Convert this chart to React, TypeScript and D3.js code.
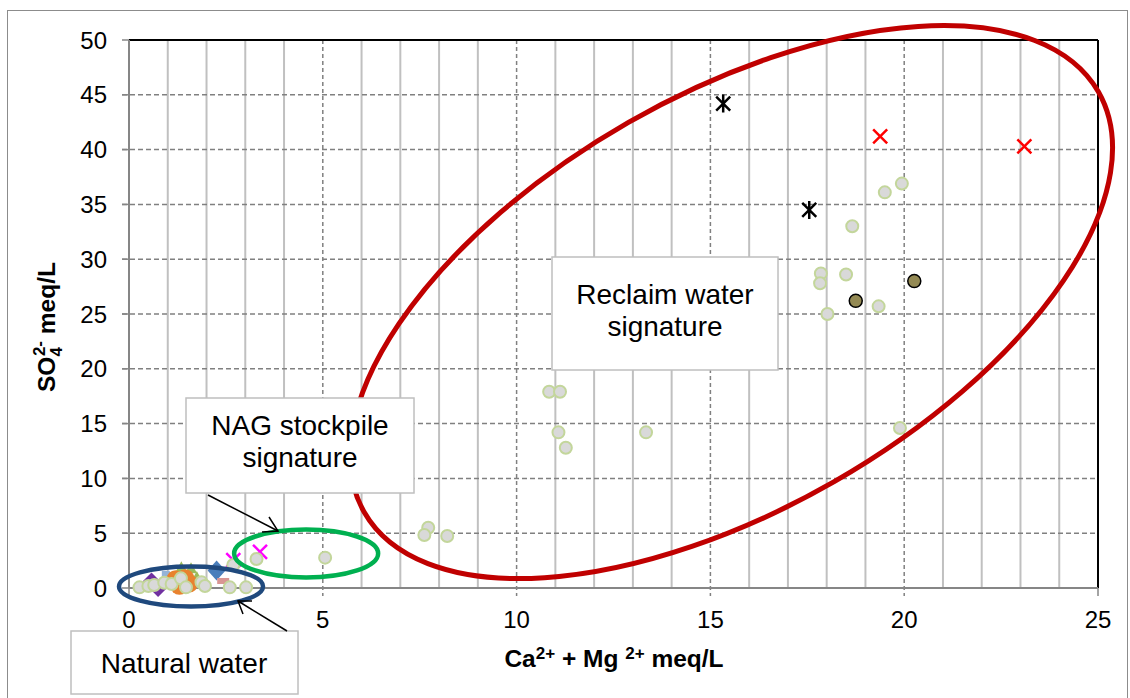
import React from "react";
import * as d3 from "d3";

// reclaim / natural water samples, [Ca+Mg, SO4] in meq/L
const grayPts: [number, number][] = [
  [0.27, 0.06], [0.5, 0.18], [0.65, 0.27], [0.91, 0.48], [1.1, 0.36], [1.34, 0.88],
  [1.47, 0.06], [1.87, 0.52], [1.96, 0.18], [2.6, 0.06], [3.02, 0.06], [2.69, 2.1],
  [3.29, 2.65], [5.06, 2.77], [7.72, 5.5], [7.62, 4.84], [8.21, 4.74],
  [10.84, 17.9], [11.12, 17.9], [11.08, 14.2], [11.27, 12.8], [13.34, 14.2], [19.89, 14.6],
  [19.94, 36.9], [19.5, 36.1], [18.66, 33.0], [17.85, 28.7], [17.83, 27.8], [18.5, 28.6],
  [18.02, 25.0], [19.34, 25.7],
];
const olivePts: [number, number][] = [[18.75, 26.2], [20.26, 28.0]];
const redCrossPts: [number, number][] = [[19.38, 41.2], [23.1, 40.3]];
const starPts: [number, number][] = [[15.33, 44.2], [17.55, 34.5]];
const magentaPts: [number, number][] = [[2.69, 2.55], [3.38, 3.3]];
const purplePts: [number, number][] = [[0.58, 0.6], [0.75, 0.0]];
const orangePts: [number, number][] = [[1.2, 0.8], [1.45, 0.9], [1.55, 0.4], [1.3, 0.2]];
const greenPts: [number, number][] = [[1.35, 1.9], [1.6, 1.8], [1.75, 1.0]];
const lightBluePts: [number, number][] = [[0.95, 1.2], [1.05, 1.1]];
const bluePts: [number, number][] = [[2.26, 1.6]];
const pinkPts: [number, number][] = [[2.43, 0.64]];

const xTicks = [0, 5, 10, 15, 20, 25];
const yTicks = [0, 5, 10, 15, 20, 25, 30, 35, 40, 45, 50];
const xMinor = d3.range(1, 25);

const W = 1130, H = 698;
const margin = { top: 40, right: 32, bottom: 110, left: 129 };
const font = "Arial, 'Liberation Sans', sans-serif";

export default function App() {
  const x = d3.scaleLinear().domain([0, 25]).range([margin.left, W - margin.right]);
  const y = d3.scaleLinear().domain([0, 50]).range([H - margin.bottom, margin.top]);
  const x0 = x(0), x1 = x(25), y0 = y(0), y1 = y(50);

  const cross = (cx: number, cy: number, s: number) =>
    `M${cx - s},${cy - s}L${cx + s},${cy + s}M${cx - s},${cy + s}L${cx + s},${cy - s}`;

  // reclaim ellipse centre
  const rcx = x(15.54), rcy = y(26.09);

  return (
    <div style={{ position: "fixed", left: 0, top: 0 }}>
      <svg width={W} height={H} style={{ display: "block", background: "#fff" }} fontFamily={font}>
        <rect x={7.5} y={10.5} width={1120} height={700} fill="#fff" stroke="#8c8c8c" strokeWidth={1} />

        {/* minor vertical grid */}
        {xMinor.filter((v) => v % 5 !== 0).map((v) => (
          <line key={"mv" + v} x1={x(v)} x2={x(v)} y1={y1} y2={y0} stroke="#c0c0c0" strokeWidth={2} />
        ))}
        {/* major vertical grid */}
        {xTicks.slice(1, -1).map((v) => (
          <line key={"Mv" + v} x1={x(v)} x2={x(v)} y1={y1} y2={y0 + 8} stroke="#808080" strokeWidth={1.5} strokeDasharray="4,3" />
        ))}
        {/* horizontal grid */}
        {yTicks.slice(1, -1).map((v) => (
          <line key={"h" + v} x1={x0 - 7} x2={x1} y1={y(v)} y2={y(v)} stroke="#808080" strokeWidth={1.5} strokeDasharray="5,3" />
        ))}
        {/* plot border */}
        <line x1={x0} x2={x1} y1={y1} y2={y1} stroke="#000" strokeWidth={2} />
        <line x1={x1} x2={x1} y1={y1} y2={y0} stroke="#000" strokeWidth={2} />
        {/* axes */}
        <line x1={x0} x2={x0} y1={y1} y2={y0} stroke="#868686" strokeWidth={2} />
        <line x1={x0} x2={x1} y1={y0} y2={y0} stroke="#868686" strokeWidth={2} />
        {yTicks.map((v) => (
          <line key={"yt" + v} x1={x0 - 7} x2={x0} y1={y(v)} y2={y(v)} stroke="#868686" strokeWidth={1.5} />
        ))}
        {[0, 25].map((v) => (
          <line key={"xt" + v} x1={x(v)} x2={x(v)} y1={y0} y2={y0 + 8} stroke="#868686" strokeWidth={1.5} />
        ))}
        {yTicks.map((v) => (
          <text key={"yl" + v} x={x0 - 22} y={y(v) + 8.5} textAnchor="end" fontSize={24} fill="#000">{v}</text>
        ))}
        {xTicks.map((v) => (
          <text key={"xl" + v} x={x(v)} y={y0 + 40} textAnchor="middle" fontSize={24} fill="#000">{v}</text>
        ))}

        {/* axis titles */}
        <text x={614} y={667} textAnchor="middle" fontSize={24.5} fontWeight="bold">
          Ca<tspan fontSize={17} dy={-8}>2+</tspan><tspan dy={8}> + Mg </tspan><tspan fontSize={17} dy={-8}>2+</tspan><tspan dy={8}> meq/L</tspan>
        </text>
        <text transform="translate(55,327) rotate(-90)" textAnchor="middle" fontSize={24.5} fontWeight="bold">
          SO<tspan fontSize={17} dy={7}>4</tspan><tspan fontSize={17} dx={-9} dy={-17}>2-</tspan><tspan dy={10}> meq/L</tspan>
        </text>

        {/* natural water cluster */}
        {purplePts.map(([a, b], i) => (
          <path key={"pu" + i} d={`M${x(a)},${y(b) - 9}L${x(a) + 9},${y(b)}L${x(a)},${y(b) + 9}L${x(a) - 9},${y(b)}Z`} fill="#7030a0" />
        ))}
        {lightBluePts.map(([a, b], i) => (
          <rect key={"lb" + i} x={x(a) - 4} y={y(b) - 4} width={8} height={8} fill="#95b3d7" />
        ))}
        {greenPts.map(([a, b], i) => (
          <path key={"gr" + i} d={`M${x(a)},${y(b) - 6}L${x(a) + 6},${y(b) + 5}L${x(a) - 6},${y(b) + 5}Z`} fill="#9bbb59" />
        ))}
        {orangePts.map(([a, b], i) => (
          <circle key={"or" + i} cx={x(a)} cy={y(b)} r={9} fill="#e8822e" />
        ))}
        {bluePts.map(([a, b], i) => (
          <path key={"bl" + i} d={`M${x(a)},${y(b) - 10}L${x(a) + 9},${y(b)}L${x(a)},${y(b) + 10}L${x(a) - 9},${y(b)}Z`} fill="#4a7ebb" />
        ))}
        {pinkPts.map(([a, b], i) => (
          <rect key={"pk" + i} x={x(a) - 6} y={y(b) - 3} width={12} height={6} fill="#d99694" />
        ))}
        {magentaPts.map(([a, b], i) => (
          <path key={"mg" + i} d={cross(x(a), y(b), 7)} stroke="#ff00ff" strokeWidth={2.5} fill="none" />
        ))}

        {grayPts.map(([a, b], i) => (
          <circle key={"g" + i} cx={x(a)} cy={y(b)} r={6} fill="#d9d9d9" stroke="#c3d69b" strokeWidth={2} />
        ))}
        {olivePts.map(([a, b], i) => (
          <circle key={"ol" + i} cx={x(a)} cy={y(b)} r={6.5} fill="#948a54" stroke="#000" strokeWidth={1.5} />
        ))}
        {redCrossPts.map(([a, b], i) => (
          <path key={"rc" + i} d={cross(x(a), y(b), 7)} stroke="#ff0000" strokeWidth={2.5} fill="none" />
        ))}
        {starPts.map(([a, b], i) => (
          <path key={"st" + i} d={cross(x(a), y(b), 7) + `M${x(a)},${y(b) - 9}L${x(a)},${y(b) + 9}`} stroke="#000" strokeWidth={2.5} fill="none" />
        ))}

        {/* signature ellipses */}
        <ellipse cx={rcx} cy={rcy} rx={423} ry={207} transform={`rotate(-29.8,${rcx},${rcy})`} fill="none" stroke="#c00000" strokeWidth={5} />
        <ellipse cx={x(4.57)} cy={y(3.15)} rx={72} ry={24} fill="none" stroke="#00b050" strokeWidth={4.5} />
        <ellipse cx={x(1.6)} cy={y(0.14)} rx={72} ry={20} fill="none" stroke="#1f497d" strokeWidth={4.5} />

        {/* callouts */}
        <rect x={552} y={257} width={226} height={113} fill="#fff" stroke="#bfbfbf" strokeWidth={1.5} />
        <text x={665} y={304} textAnchor="middle" fontSize={28}>Reclaim water</text>
        <text x={665} y={336} textAnchor="middle" fontSize={28}>signature</text>

        <rect x={186} y={398} width={228} height={95} fill="#fff" stroke="#bfbfbf" strokeWidth={1.5} />
        <text x={300} y={435} textAnchor="middle" fontSize={28}>NAG stockpile</text>
        <text x={300} y={467} textAnchor="middle" fontSize={28}>signature</text>
        <line x1={208} y1={495} x2={278} y2={531} stroke="#000" strokeWidth={1.5} />
        <path d="M262,532L278,531L269,517" fill="none" stroke="#000" strokeWidth={1.5} />

        <rect x={71} y={631} width={227} height={63} fill="#fff" stroke="#bfbfbf" strokeWidth={1.5} />
        <text x={184} y={673} textAnchor="middle" fontSize={28}>Natural water</text>
        <line x1={287} y1={631} x2={238} y2={601} stroke="#000" strokeWidth={1.5} />
        <path d="M243,614L238,601L252,601" fill="none" stroke="#000" strokeWidth={1.5} />
      </svg>
    </div>
  );
}
